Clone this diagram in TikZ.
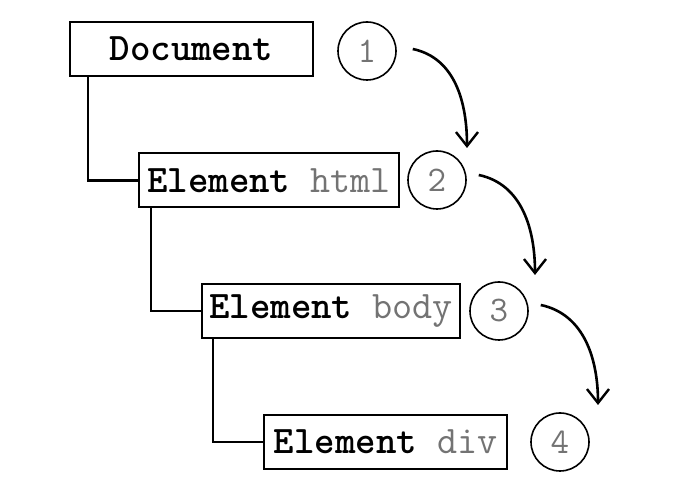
\documentclass[tikz,border=0pt]{standalone}
\usepackage{fontspec}
\usetikzlibrary{arrows.meta}
\begin{document}
\begin{tikzpicture}[x=0.5pt,y=-0.5pt,
  box/.style={draw, line width=1pt, minimum width=#1, minimum height=27pt, inner sep=0pt,
    font=\ttfamily\fontsize{19.5}{22}\selectfont},
  num/.style={draw, circle, line width=0.8pt, minimum size=29pt, inner sep=0pt,
    text=black!55, font=\ttfamily\fontsize{18}{20}\selectfont},
  tree/.style={line width=1.3pt},
  arr/.style={line width=1.3pt, -{Straight Barb[length=7pt,width=11pt,line width=1.2pt]}},
]
\useasboundingbox (0,0) rectangle (687,501);
\node[box=121.5pt] (doc) at (191.5,49) {\textbf{Document}};
\node[box=130pt] (html) at (269,180.5) {\textbf{Element} \textcolor{black!55}{html}};
\node[box=129pt] (body) at (331,311) {\textbf{Element} \textcolor{black!55}{body}};
\node[box=121.5pt] (div) at (385.5,442) {\textbf{Element} \textcolor{black!55}{div}};

\node[num] (c1) at (367,51) {1};
\node[num] (c2) at (437,180) {2};
\node[num] (c3) at (499,311) {3};
\node[num] (c4) at (560,442) {4};

\draw[tree] ([xshift=9.5pt]doc.south west) |- (html.west);
\draw[tree] ([xshift=6.5pt]html.south west) |- (body.west);
\draw[tree] ([xshift=6pt]body.south west) |- (div.west);

\coordinate (e1) at (467,148);
\coordinate (e2) at (535,275);
\coordinate (e3) at (598,405);
\draw[arr] ([xshift=8pt,yshift=1pt]c1.east) to[out=-12,in=90] (e1);
\draw[arr] ([xshift=6pt,yshift=2.5pt]c2.east) to[out=-12,in=90] (e2);
\draw[arr] ([xshift=6pt,yshift=3pt]c3.east) to[out=-12,in=90] (e3);
\end{tikzpicture}
\end{document}
